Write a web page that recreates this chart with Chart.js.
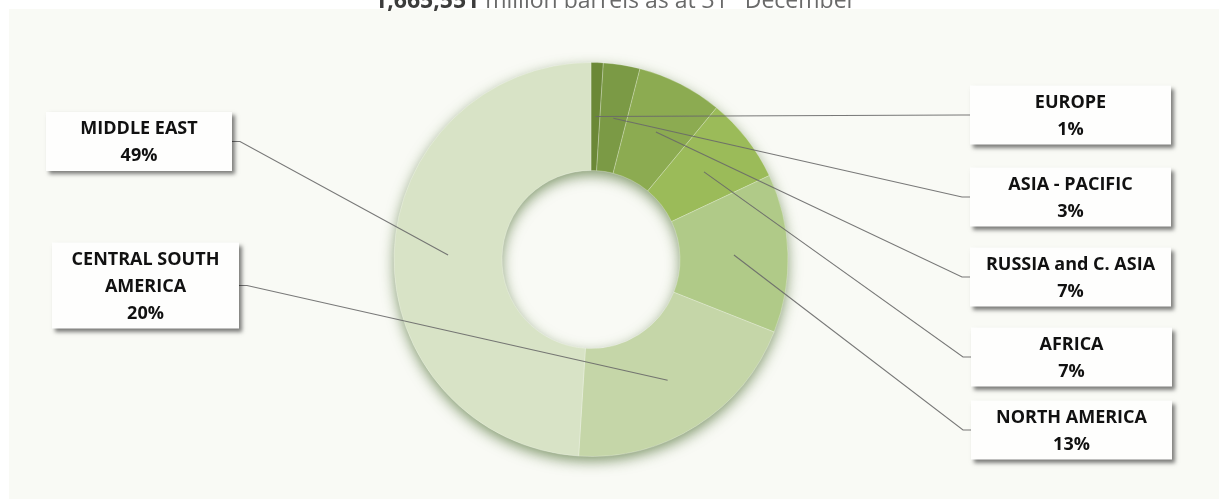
<!DOCTYPE html>
<html>
<head>
<meta charset="utf-8">
<script src="https://cdn.jsdelivr.net/npm/chart.js@4"></script>
<style>
  html, body { margin: 0; padding: 0; background: #ffffff; }
  #wrap { position: relative; width: 1219px; height: 499px; overflow: hidden; }
  #panel { position: absolute; left: 9px; top: 9px; right: 0; bottom: 0; background: #f9faf5; }
  #reserves { position: absolute; left: 0; top: 0; }
</style>
</head>
<body>
<div id="wrap">
  <div id="panel"></div>
  <canvas id="reserves" width="1219" height="499"></canvas>
</div>
<script>
// data
var regionLines = [["EUROPE"], ["ASIA - PACIFIC"], ["RUSSIA and C. ASIA"], ["AFRICA"], ["NORTH AMERICA"], ["CENTRAL SOUTH", "AMERICA"], ["MIDDLE EAST"]];
var shares = [1, 3, 7, 7, 13, 20, 49];
var totalReserves = "1,665,551";

// style
var sliceColors = ["#6b8837", "#7b9a45", "#8cab51", "#9bbb59", "#b0ca88", "#c5d6a8", "#d8e3c6"];
// label boxes: side, left x, width, centre y
var boxes = [
    { side: "right", x: 970, w: 201, cy: 115 },
    { side: "right", x: 970, w: 201, cy: 197 },
    { side: "right", x: 970, w: 201, cy: 277 },
    { side: "right", x: 971, w: 201, cy: 357 },
    { side: "right", x: 971, w: 201, cy: 430 },
    { side: "left", x: 52, w: 187, cy: 285.5 },
    { side: "left", x: 46, w: 186, cy: 141.5 }
];

var ringShadow = {
    id: "ringShadow",
    beforeDatasetsDraw: function (chart) {
        var arc = chart.getDatasetMeta(0).data[0];
        var p = arc.getProps(["x", "y", "innerRadius", "outerRadius"], true);
        var ctx = chart.ctx;
        ctx.save();
        ctx.shadowColor = "rgba(65, 100, 35, 0.65)";
        ctx.shadowBlur = 14;
        ctx.shadowOffsetY = 5;
        ctx.fillStyle = "#d8e3c6";
        ctx.beginPath();
        ctx.arc(p.x, p.y, p.outerRadius - 0.5, 0, Math.PI * 2);
        ctx.arc(p.x, p.y, p.innerRadius + 0.5, 0, Math.PI * 2, true);
        ctx.fill();
        ctx.restore();
    }
};

var calloutLabels = {
    id: "calloutLabels",
    afterDatasetsDraw: function (chart) {
        var ctx = chart.ctx;
        var arcs = chart.getDatasetMeta(0).data;
        ctx.save();
        // leader lines
        ctx.strokeStyle = "rgba(105, 105, 105, 0.9)";
        ctx.lineWidth = 1.1;
        arcs.forEach(function (arc, i) {
            var c = arc.getCenterPoint(true);
            var b = boxes[i];
            var ex = b.side === "right" ? b.x : b.x + b.w;
            var kx = b.side === "right" ? ex - 8 : ex + 8;
            ctx.beginPath();
            ctx.moveTo(c.x, c.y);
            ctx.lineTo(kx, b.cy);
            ctx.lineTo(ex, b.cy);
            ctx.stroke();
        });
        // boxes
        arcs.forEach(function (arc, i) {
            var b = boxes[i];
            var lines = regionLines[i].concat([shares[i] + "%"]);
            var h = lines.length * 27 + 5;
            var top = b.cy - h / 2;
            ctx.save();
            ctx.shadowColor = "rgba(0, 0, 0, 0.5)";
            ctx.shadowBlur = 4;
            ctx.shadowOffsetX = 3;
            ctx.shadowOffsetY = 3;
            ctx.fillStyle = "#fefefd";
            ctx.fillRect(b.x, top, b.w, h);
            ctx.restore();
            ctx.fillStyle = "#111111";
            ctx.font = "bold 18px 'Open Sans'";
            ctx.textAlign = "center";
            ctx.textBaseline = "middle";
            lines.forEach(function (t, k) {
                ctx.fillText(t, b.x + b.w / 2, b.cy + 1 + (k - (lines.length - 1) / 2) * 27);
            });
        });
        ctx.restore();
    }
};

var titleTop = {
    id: "titleTop",
    afterDraw: function (chart) {
        var ctx = chart.ctx;
        ctx.save();
        ctx.textBaseline = "alphabetic";
        ctx.textAlign = "left";
        var boldPart = totalReserves;
        var restA = " million barrels as at 31";
        var restB = " December";
        ctx.font = "bold 23px 'Open Sans'";
        var w1 = ctx.measureText(boldPart).width;
        ctx.font = "23px 'Open Sans'";
        var w2 = ctx.measureText(restA).width;
        var w3 = ctx.measureText(restB).width;
        ctx.font = "13px 'Open Sans'";
        var w4 = ctx.measureText("st").width;
        var x = 615 - (w1 + w2 + w3 + w4) / 2;
        var y = 8;
        ctx.fillStyle = "#3c3c3c";
        ctx.font = "bold 23px 'Open Sans'";
        ctx.fillText(boldPart, x, y);
        x += w1;
        ctx.fillStyle = "#6a6a6a";
        ctx.font = "23px 'Open Sans'";
        ctx.fillText(restA, x, y);
        x += w2;
        ctx.font = "13px 'Open Sans'";
        ctx.fillText("st", x, y - 10);
        x += w4;
        ctx.font = "23px 'Open Sans'";
        ctx.fillText(restB, x, y);
        ctx.restore();
    }
};

var ctx = document.getElementById("reserves").getContext("2d");
var chart = new Chart(ctx, {
    type: "doughnut",
    data: {
        labels: regionLines.map(function (l) { return l.join(" "); }),
        datasets: [{
            data: shares,
            backgroundColor: sliceColors,
            borderColor: "rgba(255, 255, 255, 0.25)",
            borderWidth: 1
        }]
    },
    options: {
        responsive: false,
        animation: false,
        devicePixelRatio: 1,
        radius: 197,
        cutout: 89,
        layout: { padding: { left: 393, right: 430, top: 62, bottom: 42 } },
        plugins: {
            legend: { display: false },
            tooltip: { enabled: false }
        }
    },
    plugins: [ringShadow, calloutLabels, titleTop]
});
</script>
</body>
</html>
